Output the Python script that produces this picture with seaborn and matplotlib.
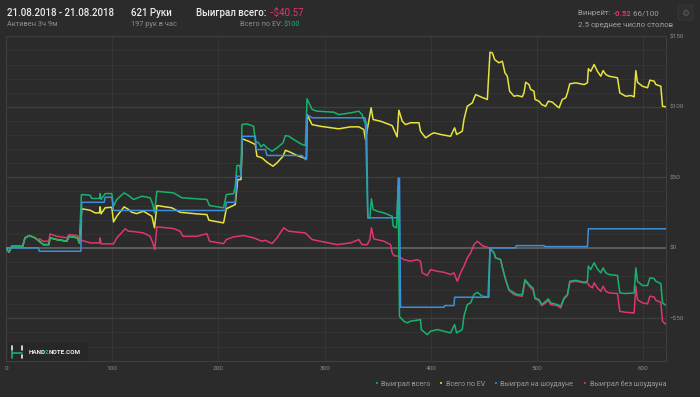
import matplotlib
matplotlib.use("Agg")
import matplotlib.pyplot as plt
import pandas as pd
import seaborn as sns
from matplotlib.lines import Line2D
from matplotlib.patches import Rectangle, FancyBboxPatch

# (hand, $) points
WON_TOTAL = [
    (0, 0), (2.8, -3.1), (5.4, 1.1), (15.7, 1.1), (17.9, 7.1), (22, 8.7), (27.3, 7.1), (31.4, 4.7),
    (35.2, 2.3), (40.2, 2.3), (41.5, 7.1), (47.8, 5.9), (57.2, 4.7), (59.4, 8.2), (67.2, 7.1), (69.1, 3.5),
    (71, 37.8), (79.2, 37.3), (80.7, 35), (88, 35), (88.6, 38.5), (89.5, 34.3), (93.3, 38.5), (99.6, 38.5),
    (101.2, 29.5), (104.3, 34.3), (111.2, 39), (115.3, 37.1), (120, 34.3), (127.9, 36.6), (135.7, 35.5),
    (138.2, 30.7), (139.8, 24.8), (142, 40.1), (157.7, 39), (165.6, 35.5), (179.7, 34.8), (189.1, 34.3),
    (191.6, 30), (204.8, 28.4), (207.4, 37.8), (214.3, 38.5), (215.8, 43.7), (217.4, 58.4), (220, 58.4),
    (221.2, 50.8), (222.1, 87.4), (226.8, 87.9), (233.1, 86.2), (234.7, 75.6), (237.8, 74.5), (240, 71.6),
    (242.5, 73.3), (245.7, 70.9), (250.4, 68.5), (255.1, 70.9), (260.8, 74.5), (263, 79.6), (266.1, 79.2),
    (270.8, 76.8), (278.7, 73.3), (281.8, 72.6), (283.4, 105.7), (288.1, 98.1), (292.8, 96.9), (308.5, 96.2),
    (313.2, 94.5), (324.2, 95.7), (332.1, 96.9), (335.2, 94.5), (338.4, 87.4), (340.6, 21.3), (342.5, 21.3),
    (344, 34.8), (345.6, 27.2), (349.4, 26), (355.7, 24.8), (363.5, 22.4), (364.5, 15.3), (367.6, 14.2),
    (369.2, 43.7), (370.4, -48.5), (371.4, -49.6), (374.5, -52), (377.7, -53.2), (380.8, -52), (390.2, -50.9),
    (390.9, -57.9), (396.5, -61.5), (399.7, -59.1), (406, -57.9), (412.2, -59.1), (418.5, -60.3),
    (422.3, -54.4), (424.2, -60.3), (429.5, -57.9), (431.1, -48.5), (434.2, -40.2), (437.4, -39),
    (440.5, -33.1), (443.7, -31.5), (448.4, -34.3), (453.7, -34.8), (455.6, 0), (459.4, -3.5), (460.9, -7.1),
    (465.6, -8.3), (467.8, -15.4), (470.3, -22.5), (473.5, -29.6), (478.2, -31.9), (481.3, -33.1), (486, -33.1),
    (488.5, -22.5), (490.7, -24.4), (493.9, -27.2), (496.1, -28.4), (498, -35.5), (501.7, -36.7), (504.3, -40.2),
    (508, -37.9), (510.5, -36.2), (512.7, -39), (519, -40.2), (522.2, -41.4), (525.3, -35.5), (528.5, -33.1),
    (530.7, -23.7), (536.3, -23), (544.2, -24.4), (547.3, -23.7), (548.2, -13), (550.4, -15.4), (553.6, -10.6),
    (556.7, -14.9), (559.9, -17.7), (562.1, -14.2), (564.6, -17.7), (567.7, -18.9), (575.6, -19.6),
    (577.8, -31.9), (583.4, -32.4), (591.3, -31.9), (592.9, -14.2), (594.4, -23.7), (599.1, -26.7),
    (603.9, -26.7), (606.1, -21.3), (610.1, -21.7), (611.7, -23.7), (616.4, -25.3), (618, -39), (621, -40.6),
]

EV_TOTAL = [
    (0, 0), (2.8, -3.1), (5.4, 1.1), (15.7, 1.1), (17.9, 7.1), (22, 8.7), (27.3, 7.1), (31.4, 4.7),
    (35.2, 2.3), (40.2, 2.3), (41.5, 7.1), (47.8, 5.9), (57.2, 4.7), (59.4, 8.2), (67.2, 7.1), (69.1, 3.5),
    (71.3, 27.7), (79.2, 26.7), (83.9, 24.8), (88, 24.8), (88.6, 29.1), (89.5, 24.1), (93.3, 28.4), (99.6, 28.8),
    (101.2, 18.4), (104.3, 22.4), (111.2, 29.1), (115.3, 27.2), (118.4, 25.2), (123.1, 24.3), (129.4, 26),
    (137.3, 22.4), (139.8, 14.2), (142, 30), (156.1, 28.4), (164, 25.2), (179.7, 24.1), (189.1, 23.6),
    (191, 19.6), (204.8, 17.7), (207.4, 27.7), (215.8, 30.7), (218.1, 48.4), (221.2, 48.4), (222.4, 77.3),
    (228.4, 75.6), (234.7, 73.3), (236.2, 65), (241, 63.8), (245.7, 60.7), (251.3, 57.9), (255.1, 60.3),
    (260.8, 65), (263, 69.2), (267.7, 67.8), (273.9, 65.5), (280.2, 63.8), (282.8, 63.1), (283.4, 94.5),
    (288.1, 87.4), (296, 86.2), (313.2, 84.4), (324.2, 85.8), (332.1, 85.8), (336.8, 83.9), (338.4, 76.8),
    (340.6, 86.2), (343.7, 99.3), (345.6, 91), (352.5, 89.8), (363.5, 86.7), (368.2, 78.7), (369.8, 97.6),
    (373, 89.8), (376.1, 87.4), (380.8, 88.7), (388.7, 88.7), (390.2, 82.7), (395, 78), (399.7, 80.4),
    (402.8, 81.6), (409.1, 80.4), (418.5, 79.1), (422.3, 85.1), (424.2, 80.4), (429.5, 82.7), (431.1, 91),
    (434.2, 100.4), (438.9, 102.8), (442.1, 108.7), (446.8, 107.1), (453.1, 105.2), (455.6, 138.7),
    (457.8, 138.3), (460, 133.5), (464, 131.2), (467.2, 132.3), (469.7, 124.1), (471.9, 121.7), (474.1, 111.1),
    (478.2, 107.5), (481.3, 108), (486, 107.1), (487.6, 109.9), (489.2, 117.4), (492.3, 115.8), (493.9, 112.3),
    (497, 111.1), (498, 105.2), (501.7, 104), (504.3, 101.6), (508, 100.4), (510.5, 104), (514.3, 103.3),
    (516.8, 101.6), (520.6, 99.3), (523.7, 105.2), (526.9, 106.4), (528.5, 109.9), (530.7, 116.3), (536.3, 117),
    (544.2, 115.8), (547.3, 117), (548.2, 127), (550.4, 125.2), (553.6, 130), (556.7, 125.2), (559.9, 121.7),
    (562.1, 125.7), (564.6, 122.9), (567.7, 121.7), (575.6, 120.6), (577.8, 109.9), (583.4, 107.5),
    (588.2, 108), (591.3, 107.1), (592.9, 125.7), (594.4, 117.4), (599.1, 114.6), (603.9, 113.5),
    (606.1, 118.9), (610.1, 118.2), (611.7, 115.8), (616.4, 114.6), (618, 100.4), (621, 100),
]

WON_SHOWDOWN = [
    (0, 0), (30.5, 0), (31.4, -2.4), (70.5, -2.4), (71.3, 32.3), (92.4, 32.3), (93.3, 35.9), (99.6, 35.9),
    (101.2, 26.5), (206.4, 26.5), (207.4, 32.3), (215.8, 32.3), (217.4, 50.8), (221.2, 50.8), (222.4, 79.1),
    (234.7, 79.1), (235.6, 69.7), (244.1, 69.7), (245.7, 65.5), (278.7, 65.5), (281.8, 62.6), (282.8, 62.6),
    (283.4, 94.5), (288.1, 92.2), (338, 92.2), (339.5, 86), (340.6, 21.3), (368.2, 21.3), (369.2, 49.4),
    (370.4, 49.4), (371.4, -42.1), (412.2, -42.1), (413, -40.9), (421.7, -40.9), (422.3, -35), (454.6, -35),
    (455.6, 0), (479.5, 0), (480.4, 1.6), (506.5, 1.6), (507.4, 0.9), (547.3, 0.9), (548.2, 13.5), (621, 13.5),
]

WON_NO_SHOWDOWN = [
    (0, 0), (2.8, -3.1), (5.4, 1.1), (15.7, 1.1), (17.9, 7.1), (22, 8.7), (27.3, 7.1), (30.5, 5.5),
    (31.4, 6.4), (35.2, 4.7), (40.2, 4.7), (41.5, 9.9), (47.8, 8.2), (57.2, 7.1), (59.4, 9.4), (67.2, 8.7),
    (69.1, 5.9), (71.3, 5.4), (79.2, 3.5), (88, 3.5), (88.6, 7.1), (89.5, 2.8), (101.2, 2.8), (104.3, 7.1),
    (112.2, 13.5), (115.3, 11.8), (120, 11.6), (129.4, 10.6), (135.7, 8.2), (138.2, 3.5), (140.1, -1.2),
    (142, 14.9), (157.7, 13.7), (164, 11.8), (166.5, 8.2), (179.7, 8.2), (189.1, 10.1), (191.6, 4.7),
    (204.8, 3), (207.4, 5.9), (214.3, 7.8), (223.7, 8.7), (233.1, 7.1), (241, 4.7), (244.1, 5.4), (250.4, 3),
    (255.1, 7.1), (261.4, 14.2), (266.1, 11.8), (281.8, 10.6), (288.1, 5.9), (296, 4.7), (311.6, 2.3),
    (324.2, 3.5), (332.1, 5.9), (335.2, 2.3), (340, 2.3), (342.5, 5.9), (344, 14.2), (346.2, 6.4), (355.7, 4.7),
    (362, 2.3), (363.5, -3.5), (365.1, -5.5), (369.8, -6), (374.5, -8.3), (380.8, -9.5), (387.1, -8.3),
    (390.2, -9.5), (391.8, -17.7), (396.5, -19.6), (399.7, -15.4), (406, -16.6), (412.2, -17.3),
    (418.5, -18.9), (421.7, -17.7), (424.8, -23.7), (428, -17.7), (431.1, -13), (434.2, -7.1), (437.4, -3.5),
    (440.5, 2.3), (443.7, 4.7), (448.4, 1.6), (454.6, 0), (459.4, -3.5), (460.9, -7.1), (465.6, -8.3),
    (467.8, -15.4), (470.3, -22.5), (473.5, -30.1), (478.2, -33.1), (481.3, -33.8), (486, -34.3),
    (488.5, -23.7), (490.7, -25.3), (493.9, -28.4), (496.1, -29.6), (498, -36.2), (501.7, -37.2),
    (504.3, -40.9), (508, -39), (510.5, -37.2), (512.7, -40.2), (519, -40.9), (522.2, -42.6), (525.3, -36.2),
    (528.5, -33.8), (530.7, -24.4), (536.3, -23.7), (544.2, -24.8), (547.3, -24.8), (548.9, -26.7),
    (552, -28.4), (553.6, -24.8), (556.7, -28.4), (559.9, -30.8), (562.1, -27.2), (564.6, -30.8),
    (567.7, -31.9), (575.6, -32.4), (577.8, -45), (583.4, -45.7), (591.3, -46.1), (592.9, -27.2),
    (594.4, -36.7), (599.1, -39), (603.9, -39.7), (606.1, -34.3), (610.1, -34.8), (611.7, -37.2),
    (616.4, -38.6), (618, -52.1), (621, -54.1),
]

SERIES_NAMES = ["Выиграл всего", "Всего по EV", "Выиграл на шоудауне", "Выиграл без шоудауна"]
SERIES_COLORS = ["#17b36c", "#e6e33c", "#3b8fdc", "#e0356e"]
X_TICKS = [0, 100, 200, 300, 400, 500, 600]
Y_TICKS = [-50, 0, 50, 100, 150]
Y_TICK_LABELS = ["\u2212$50", "$0", "$50", "$100", "$150"]

BG = "#2b2b2b"
W, H = 700, 397

sns.set_style("dark")
plt.rcParams["font.family"] = ["Roboto", "DejaVu Sans"]

fig = plt.figure(figsize=(7, 3.97), dpi=100, facecolor=BG)
ax = fig.add_axes([6 / W, 36.3 / H, 659.7 / W, 324.4 / H], facecolor=BG)
renderer = fig.canvas.get_renderer()


def fx(x, y):
    # pixel position (from top-left) -> figure fraction
    return x / W, 1 - y / H


def text_row(x, y, parts, **kw):
    # place text pieces one after another, each with its own style
    for s, extra in parts:
        t = fig.text(*fx(x, y), s, **{**kw, **extra})
        x += t.get_window_extent(renderer).width


# grid
ax.set_xlim(0, 621)
ax.set_ylim(-80, 150)
ax.set_yticks(range(-80, 151, 10), minor=True)
ax.set_yticks(Y_TICKS, Y_TICK_LABELS)
ax.set_xticks(X_TICKS)
ax.grid(which="minor", axis="y", color="#333333", lw=0.8)
ax.grid(which="major", axis="y", color="#3e3e3e", lw=1.0)
ax.grid(which="major", axis="x", color="#363636", lw=0.8)
ax.axhline(0, color="#5c5c5c", lw=1.4, zorder=1.5)
for s in ax.spines.values():
    s.set_color("#3e3e3e")
    s.set_linewidth(0.8)
ax.yaxis.tick_right()
ax.tick_params(axis="both", which="both", length=0, colors="#8a8a8a", labelsize=4.6)
ax.tick_params(axis="y", pad=2.5)
ax.tick_params(axis="x", pad=3.5)

# lines (draw order: EV, no-showdown, total, showdown)
data = {
    "Выиграл всего": WON_TOTAL,
    "Всего по EV": EV_TOTAL,
    "Выиграл на шоудауне": WON_SHOWDOWN,
    "Выиграл без шоудауна": WON_NO_SHOWDOWN,
}
colors = dict(zip(SERIES_NAMES, SERIES_COLORS))
for i, name in enumerate(["Всего по EV", "Выиграл без шоудауна", "Выиграл всего", "Выиграл на шоудауне"]):
    df = pd.DataFrame(data[name], columns=["hand", "value"])
    sns.lineplot(data=df, x="hand", y="value", color=colors[name], lw=1.1,
                 sort=False, estimator=None, legend=False, ax=ax, zorder=3 + i)
ax.set_xlabel("")
ax.set_ylabel("")

# header
WHITE = "#ececec"
GRAY = "#8e8e8e"
LGRAY = "#a0a0a0"
PINK = "#e0356e"
GREEN = "#17b36c"
big = dict(fontsize=7.0, fontweight="medium", color=WHITE, va="center", ha="left")
small = dict(fontsize=5.3, color=GRAY, va="center", ha="left")
right = dict(fontsize=5.7, color=LGRAY, va="center", ha="left")

fig.text(*fx(7, 13), "21.08.2018 - 21.08.2018", **big)
fig.text(*fx(7, 24.5), "Активен 3ч 9м", **small)
fig.text(*fx(131, 13), "621 Руки", **big)
fig.text(*fx(131, 24.5), "197 рук в час", **small)
fig.text(*fx(196, 13), "Выиграл всего:", **big)
fig.text(*fx(268, 13), "\u2212$40.57", **{**big, "color": PINK, "fontweight": "normal"})
fig.text(*fx(240, 24.5), "Всего по EV:", **small)
fig.text(*fx(284, 24.5), "$100", **{**small, "color": GREEN})
text_row(578, 13, [("Винрейт: ", {}), ("-0.52", {"color": PINK, "fontweight": "bold"}),
                   (" 66/100", {})], **right)
fig.text(*fx(578, 24.5), "2.5 среднее число столов", **right)

# settings button
fig.patches.append(FancyBboxPatch(fx(678, 20), 15 / W, 15 / H, boxstyle="round,pad=0,rounding_size=0.004",
                                  transform=fig.transFigure, fc="#2f2f2f", ec="#383838", lw=0.6))
fig.text(*fx(685.5, 13), "\u2699", fontsize=6.5, color="#5e5e5e", ha="center", va="center",
         family="DejaVu Sans")

# watermark
fig.patches.append(Rectangle(fx(8, 361), 80 / W, 18 / H, transform=fig.transFigure,
                             fc="#272727", ec="none", zorder=0.5))
logo = [((12.3, 346), (12.3, 350), WHITE), ((12.3, 351), (12.3, 358), GREEN),
        ((12.3, 352.5), (22.3, 352.5), GREEN), ((22.3, 346), (22.3, 350), WHITE),
        ((22.3, 355), (22.3, 358), WHITE)]
for (x0, y0), (x1, y1), c in logo:
    a, b = fx(x0, y0)
    c2, d = fx(x1, y1)
    fig.add_artist(Line2D([a, c2], [b, d], color=c, lw=1.2, transform=fig.transFigure))

text_row(28.3, 352.3, [("HAND", {}), ("2", {"color": GREEN}), ("NOTE.COM", {})],
         fontsize=4.6, fontweight="bold", color=WHITE, va="center", ha="left")

# legend
lx = [376.7, 441, 496, 585]
for x, name, c in zip(lx, SERIES_NAMES, SERIES_COLORS):
    fig.text(*fx(x, 384.3), "\u2022", fontsize=5, color=c, ha="center", va="center", family="DejaVu Sans")
    fig.text(*fx(x + 4.5, 384.3), name, fontsize=5.1, color="#9a9a9a", ha="left", va="center")

fig.savefig("out.png", dpi=100, facecolor=BG)
